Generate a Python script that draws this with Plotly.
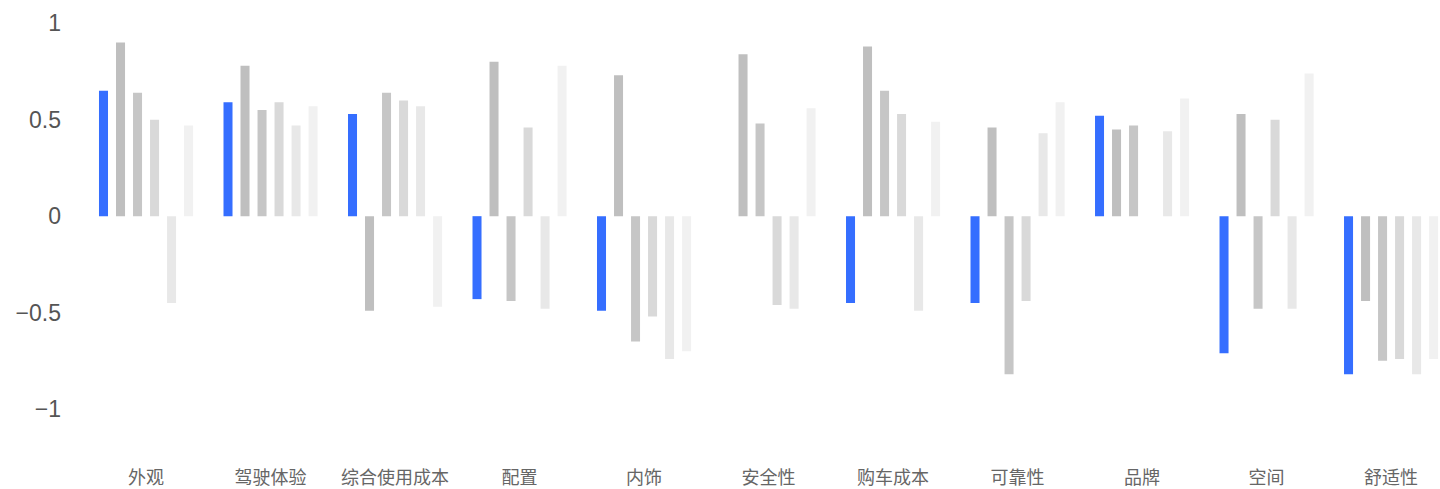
import plotly.graph_objects as go

categories = ["外观", "驾驶体验", "综合使用成本", "配置", "内饰", "安全性",
              "购车成本", "可靠性", "品牌", "空间", "舒适性"]

series_names = ["本品", "竞品1", "竞品2", "竞品3", "竞品4", "竞品5"]

s0 = [0.65, 0.59, 0.53, -0.43, -0.49, None, -0.45, -0.45, 0.52, -0.71, -0.82]
s1 = [0.90, 0.78, -0.49, 0.80, 0.73, 0.84, 0.88, 0.46, 0.45, 0.53, -0.44]
s2 = [0.64, 0.55, 0.64, -0.44, -0.65, 0.48, 0.65, -0.82, 0.47, -0.48, -0.75]
s3 = [0.50, 0.59, 0.60, 0.46, -0.52, -0.46, 0.53, -0.44, None, 0.50, -0.74]
s4 = [-0.45, 0.47, 0.57, -0.48, -0.74, -0.48, -0.49, 0.43, 0.44, -0.48, -0.82]
s5 = [0.47, 0.57, -0.47, 0.78, -0.70, 0.56, 0.49, 0.59, 0.61, 0.74, -0.74]

series_values = [s0, s1, s2, s3, s4, s5]
colors = ["#356EFF", "#BFBFBF", "#C6C6C6", "#D9D9D9", "#E8E8E8", "#F1F1F1"]

y_ticks = [-1, -0.5, 0, 0.5, 1]
y_tick_text = ["−1", "−0.5", "0", "0.5", "1"]

fig = go.Figure()
for name, vals, col in zip(series_names, series_values, colors):
    fig.add_trace(go.Bar(x=categories, y=vals, name=name,
                         marker=dict(color=col, line=dict(width=0))))

fig.update_layout(
    width=1440, height=489,
    barmode="group",
    bargap=0.18,
    bargroupgap=0.47,
    showlegend=False,
    plot_bgcolor="white",
    paper_bgcolor="white",
    margin=dict(l=62, r=0, t=4, b=24, autoexpand=False),
    xaxis=dict(range=[-0.675, 10.393], showgrid=False, zeroline=False,
               showline=False, ticks="", automargin=False,
               tickfont=dict(family="Noto Sans CJK SC", size=18, color="#666666")),
    yaxis=dict(range=[-1.29, 1.1], tickvals=y_ticks, ticktext=y_tick_text,
               showgrid=False, zeroline=False, showline=False, ticks="",
               automargin=False,
               tickfont=dict(family="Liberation Sans", size=23, color="#555555")),
)

fig.write_html("out.html",
               config={"displayModeBar": False},
               post_script="document.body.style.margin='0';document.body.style.overflow='hidden';")
